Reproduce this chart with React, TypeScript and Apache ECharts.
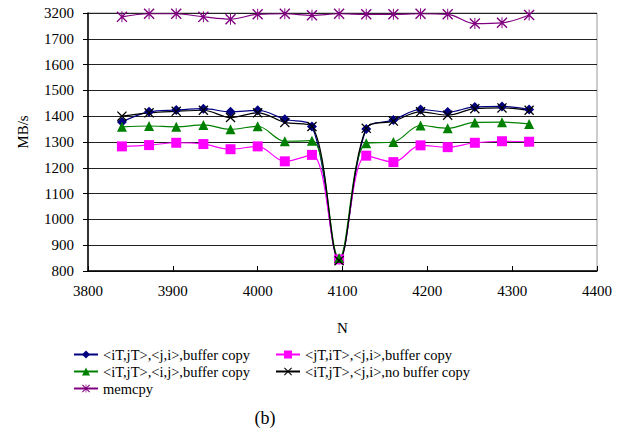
import React, { useEffect, useRef } from "react";
import * as echarts from "echarts";

const nValues = [3840, 3872, 3904, 3936, 3968, 4000, 4032, 4064, 4096, 4128, 4160, 4192, 4224, 4256, 4288, 4320];
const blueBuf = [1378, 1417, 1424, 1429, 1417, 1423, 1388, 1360, 845, 1350, 1385, 1426, 1416, 1436, 1438, 1426];
const magentaBuf = [1283, 1288, 1297, 1292, 1272, 1283, 1225, 1250, 845, 1247, 1222, 1287, 1280, 1297, 1303, 1301];
const greenBuf = [1359, 1362, 1359, 1366, 1349, 1361, 1303, 1305, 850, 1295, 1300, 1364, 1353, 1376, 1377, 1370];
const blackNoBuf = [1400, 1413, 1419, 1423, 1395, 1413, 1376, 1360, 840, 1353, 1381, 1417, 1404, 1429, 1432, 1423];
const memcpy = [3185, 3197, 3197, 3185, 3176, 3195, 3197, 3191, 3197, 3195, 3195, 3197, 3195, 3159, 3162, 3192];
const xTicks = [3800, 3900, 4000, 4100, 4200, 4300, 4400];
const yTicks = [800, 900, 1000, 1100, 1200, 1300, 1400, 1500, 1600, 1700, 1800];
const breakTop = 1800; // plotted position of the broken-axis top label
const breakLabel = 3200; // real value shown at the top of the broken axis

const names = [
  "<iT,jT>,<j,i>,buffer copy",
  "<jT,iT>,<j,i>,buffer copy",
  "<iT,jT>,<i,j>,buffer copy",
  "<iT,jT>,<j,i>,no buffer copy",
  "memcpy",
];

const X_SYMBOL = "path://M0,0.9L0.9,0L5,4.1L9.1,0L10,0.9L5.9,5L10,9.1L9.1,10L5,5.9L0.9,10L0,9.1L4.1,5Z";
const STAR_SYMBOL =
  "path://M0,0.9L0.9,0L5,4.1L9.1,0L10,0.9L5.9,5L10,9.1L9.1,10L5,5.9L0.9,10L0,9.1L4.1,5Z M4.55,0L5.45,0L5.45,10L4.55,10Z";

const FONT = "Liberation Serif";

export default function App() {
  const ref = useRef<HTMLDivElement>(null);
  useEffect(() => {
    if (!ref.current) return;
    const chart = echarts.init(ref.current, null, { renderer: "svg" });
    const toPairs = (vals: number[], offset = 0) => nValues.map((n, i) => [n, vals[i] - offset]);
    const mk = (name: string, vals: number[], color: string, symbol: string, size: number, offset = 0) => ({
      name,
      type: "line",
      data: toPairs(vals, offset),
      smooth: 0.35,
      symbol,
      symbolSize: size,
      showSymbol: true,
      lineStyle: { color, width: 1.2 },
      itemStyle: { color, borderColor: color, borderWidth: 0 },
      z: 3,
    });
    const legendBase = {
      orient: "vertical",
      padding: 0,
      itemWidth: 24,
      itemHeight: 10,
      itemGap: 2,
      textStyle: { fontFamily: FONT, fontSize: 14.5, color: "#000" },
    };
    chart.setOption({
      animation: false,
      backgroundColor: "#fff",
      textStyle: { fontFamily: FONT },
      grid: { left: 88, top: 13, right: 23, bottom: 167, containLabel: false, show: true, borderColor: "#999", borderWidth: 1 },
      xAxis: {
        type: "value",
        min: xTicks[0],
        max: xTicks[xTicks.length - 1],
        interval: 100,
        name: "N",
        nameLocation: "middle",
        nameGap: 49,
        nameTextStyle: { fontFamily: FONT, fontSize: 15, color: "#000" },
        axisLine: { show: true, onZero: false, lineStyle: { color: "#000", width: 1.5 } },
        axisTick: { show: true, inside: true, length: 5, lineStyle: { color: "#000" } },
        axisLabel: { fontFamily: FONT, fontSize: 15, color: "#000", margin: 12, formatter: (v: number) => String(v) },
        splitLine: { show: false },
      },
      yAxis: {
        type: "value",
        min: yTicks[0],
        max: yTicks[yTicks.length - 1],
        interval: 100,
        axisLine: { show: true, lineStyle: { color: "#000", width: 1.5 } },
        axisTick: { show: true, length: 5, lineStyle: { color: "#000" } },
        axisLabel: {
          fontFamily: FONT,
          fontSize: 15,
          color: "#000",
          margin: 14,
          formatter: (v: number) => (v === breakTop ? String(breakLabel) : String(v)),
        },
        splitLine: { show: true, lineStyle: { color: "#222", width: 1 } },
      },
      legend: [
        { ...legendBase, left: 73, top: 347, data: [names[0], names[2], names[4]] },
        { ...legendBase, left: 275, top: 347, data: [names[1], names[3]] },
      ],
      graphic: [
        {
          type: "text",
          x: 23,
          y: 132,
          rotation: Math.PI / 2,
          style: { text: "MB/s", fontFamily: FONT, fontSize: 15, fill: "#000", align: "center", verticalAlign: "middle" },
        },
        {
          type: "text",
          x: 265,
          y: 418,
          style: { text: "(b)", fontFamily: FONT, fontSize: 18, fill: "#000", align: "center", verticalAlign: "middle" },
        },
      ],
      series: [
        mk(names[0], blueBuf, "#000080", "diamond", 10),
        mk(names[1], magentaBuf, "#FF00FF", "rect", 10),
        mk(names[2], greenBuf, "#008000", "triangle", 10),
        mk(names[3], blackNoBuf, "#000000", X_SYMBOL, 10),
        mk(names[4], memcpy, "#800080", STAR_SYMBOL, 11, breakLabel - breakTop),
      ],
    });
    return () => chart.dispose();
  }, []);
  return <div ref={ref} style={{ position: "absolute", left: 0, top: 0, width: 620, height: 438 }} />;
}
